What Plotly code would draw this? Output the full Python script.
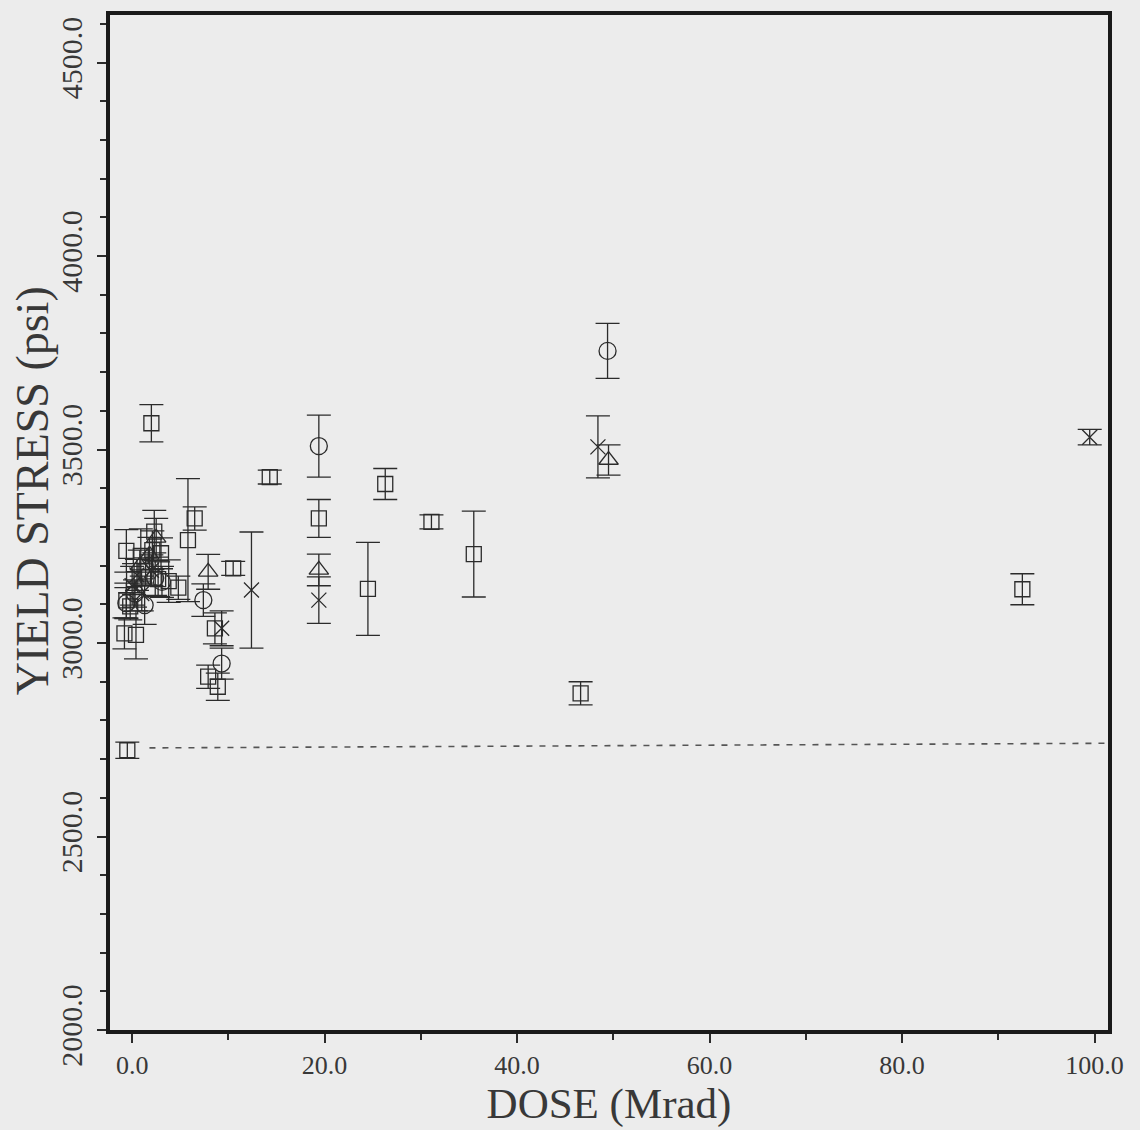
import plotly.graph_objects as go

# ---- data ----
sq_dose = [-0.5, 2.0, 14.3, 31.1, 26.3, 19.4, 24.5, 35.5, 46.6, 92.5, 5.8, 6.5, 10.5, 8.6,
           7.9, 8.9, -0.8, 0.4,
           -0.6, -0.6, 0.2, 0.9, 2.1, 2.7, 2.3, 3.0, 4.8, 1.4, -0.2, 3.8]
sq_stress = [2723, 3568, 3429, 3313, 3411, 3322, 3140, 3230, 2870, 3139, 3266, 3322, 3193, 3038,
             2913, 2887, 3025, 3021,
             3238, 3110, 3165, 3225, 3240, 3165, 3288, 3232, 3143, 3185, 3095, 3160]
sq_err = [21, 48, 18, 18, 40, 49, 120, 111, 30, 40, 159, 30, 18, 40,
          30, 35, 40, 62,
          55, 45, 40, 70, 50, 45, 55, 40, 30, 35, 35, 55]

ci_dose = [19.4, 49.4, 7.4, 9.3, -0.6, 1.3, 2.4, 0.3, 3.1]
ci_stress = [3509, 3755, 3111, 2947, 3103, 3098, 3168, 3128, 3158]
ci_err = [80, 71, 42, 40, 40, 50, 45, 35, 40]

tr_dose = [19.4, 49.5, 7.9, 2.5, 0.8, 1.8]
tr_stress = [3189, 3473, 3184, 3272, 3200, 3228]
tr_err = [41, 39, 45, 50, 40, 45]

xx_dose = [19.4, 48.4, 99.5, 12.4, 9.3, 0.5, 0.0, 1.0, 2.0]
xx_stress = [3111, 3507, 3532, 3137, 3038, 3176, 3148, 3128, 3188]
xx_err = [60, 80, 20, 150, 45, 40, 50, 45, 40]

ref_dose = [1.8, 101.4]
ref_stress = [2729, 2741]

x_ticks = [0, 20, 40, 60, 80, 100]
y_ticks = [2000, 2500, 3000, 3500, 4000, 4500]

INK = "#2b2b2b"
TXT = "#383838"
BG = "#ececec"
SERIF = "Liberation Serif, Times New Roman, serif"

fig = go.Figure()

fig.add_trace(go.Scatter(
    x=ref_dose, y=ref_stress, mode="lines",
    line=dict(color="#555555", width=1.6, dash="6px,7px"),
    showlegend=False, hoverinfo="skip"))


def add_series(xs, ys, es, symbol, size):
    fig.add_trace(go.Scatter(
        x=xs, y=ys, mode="markers",
        marker=dict(symbol=symbol, size=size, color=INK,
                    line=dict(color=INK, width=1.3)),
        error_y=dict(type="data", array=es, visible=True, color=INK,
                     thickness=1.3, width=12),
        showlegend=False))


add_series(sq_dose, sq_stress, sq_err, "square-open", 15)
add_series(ci_dose, ci_stress, ci_err, "circle-open", 17)
add_series(tr_dose, tr_stress, tr_err, "triangle-up-open", 17)
add_series(xx_dose, xx_stress, xx_err, "x-thin-open", 15)

fig.update_layout(
    width=1140, height=1130,
    margin=dict(l=110, r=32, t=15, b=100),
    paper_bgcolor=BG, plot_bgcolor=BG,
    font=dict(family=SERIF, color=TXT),
    showlegend=False,
    annotations=[dict(
        text="YIELD STRESS (psi)", textangle=-90, showarrow=False,
        xref="paper", yref="paper", x=-0.078, y=0.531,
        xanchor="center", yanchor="middle",
        font=dict(family=SERIF, size=46, color=TXT))],
)

fig.update_xaxes(
    range=[-2.3, 101.4],
    automargin=False,
    tickvals=x_ticks, ticktext=[f"{v:.1f}" for v in x_ticks],
    ticks="outside", ticklen=9, tickwidth=1.5, tickcolor=INK,
    minor=dict(dtick=10, tick0=0, ticks="outside", ticklen=6, tickwidth=1.5, tickcolor=INK),
    showline=True, linecolor="#1a1a1a", linewidth=4, mirror=True,
    showgrid=False, zeroline=False,
    tickfont=dict(family=SERIF, size=26, color=TXT),
    title=dict(text="DOSE (Mrad)", font=dict(family=SERIF, size=43, color=TXT), standoff=2),
)

fig.update_yaxes(
    range=[2000, 4623],
    automargin=False,
    tickvals=y_ticks, ticktext=[f"{v:.1f}" for v in y_ticks],
    tickangle=-90,
    ticks="outside", ticklen=9, tickwidth=1.5, tickcolor=INK,
    minor=dict(dtick=100, tick0=2000, ticks="outside", ticklen=6, tickwidth=1.5, tickcolor=INK),
    showline=True, linecolor="#1a1a1a", linewidth=4, mirror=True,
    showgrid=False, zeroline=False,
    ticklabelstandoff=3,
    tickfont=dict(family=SERIF, size=30, color=TXT),
)

fig.write_html(
    "out.html",
    config={"displayModeBar": False},
    post_script="document.body.style.margin='0px';document.body.style.background='#ececec';",
)
